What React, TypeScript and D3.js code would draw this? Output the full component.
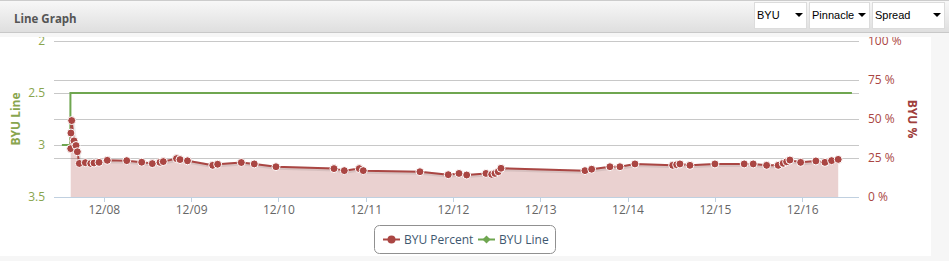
import React from "react";
import * as d3 from "d3";

const YEAR = "2016";
const xTickLabels = ["12/08", "12/09", "12/10", "12/11", "12/12", "12/13", "12/14", "12/15", "12/16"];
const leftTicks = [2, 2.5, 3, 3.5];
const rightTicks = [0, 25, 50, 75, 100];

// BYU Percent series: time, percent
const pctTimes = [
  "12/07 14:46", "12/07 14:49", "12/07 15:02", "12/07 15:40", "12/07 16:13", "12/07 16:35", "12/07 17:08",
  "12/07 18:47", "12/07 20:16", "12/07 21:10", "12/07 22:33", "12/08 00:49", "12/08 06:10", "12/08 10:17",
  "12/08 13:12", "12/08 15:19", "12/08 16:13", "12/08 19:51", "12/08 20:49", "12/08 22:52", "12/09 05:48",
  "12/09 07:10", "12/09 13:40", "12/09 17:14", "12/09 23:12", "12/10 15:09", "12/10 17:59", "12/10 22:06",
  "12/10 23:12", "12/11 14:47", "12/11 22:34", "12/12 01:31", "12/12 03:38", "12/12 08:56", "12/12 10:30",
  "12/12 11:25", "12/12 12:19", "12/12 13:04", "12/13 12:09", "12/13 14:00", "12/13 19:01", "12/13 21:46",
  "12/14 01:54", "12/14 12:16", "12/14 13:22", "12/14 14:16", "12/14 17:01", "12/14 23:53", "12/15 07:56",
  "12/15 10:25", "12/15 14:06", "12/15 17:17", "12/15 18:40", "12/15 19:36", "12/15 20:30", "12/15 23:27",
  "12/16 03:39", "12/16 06:08", "12/16 07:58", "12/16 09:47",
];
const pctValues = [
  31, 41, 49, 36, 33, 29, 21.5,
  22, 21.5, 21.8, 22.2, 23.5, 23.3, 22.3,
  21.4, 22.2, 22.7, 24.6, 24, 23.2, 20.3,
  21, 22.1, 21.2, 19.4, 18.2, 16.9, 18.2,
  16.9, 16.2, 14.3, 15.1, 14.1, 15.1, 14.5,
  15.1, 16.2, 18.4, 16.9, 17.8, 19.4, 19.4,
  21.2, 20.3, 20.7, 21.2, 20.3, 21.2, 21.2,
  21.2, 20.3, 20.3, 21.6, 22.6, 23.7, 22.2,
  23.1, 22.2, 23.3, 24.1,
];

// BYU Line series
const lineTimes = ["12/07 12:20", "12/07 14:40", "12/07 14:41", "12/16 13:33"];
const lineValues = [3, 3, 2.5, 2.5];

const domainStart = "12/07 10:10";
const domainEnd = "12/16 15:30";

const selectLabels = ["BYU", "Pinnacle", "Spread"];

const parse = d3.timeParse("%Y/%m/%d %H:%M");
const p = (s: string) => parse(`${YEAR}/${s}`) as Date;

const FONT = "'Open Sans', 'DejaVu Sans', sans-serif";
const RED = "#aa4643";
const GREEN_TXT = "#89a54e";
const GREEN_LINE = "#6fa650";

export default function App() {
  const plotL = 54, plotR = 859, plotT = 41, plotB = 197;
  const x = d3.scaleTime().domain([p(domainStart), p(domainEnd)]).range([plotL, plotR]);
  const yL = d3.scaleLinear().domain([2, 3.5]).range([plotT, plotB]);
  const yR = d3.scaleLinear().domain([0, 100]).range([plotB, plotT]);

  const pct = pctTimes.map((t, i) => ({ t: p(t), v: pctValues[i] }));
  const ln = lineTimes.map((t, i) => ({ t: p(t), v: lineValues[i] }));

  const area = d3.area<any>().x((d) => x(d.t)).y0(plotB).y1((d) => yR(d.v))(pct) || "";
  const redLine = d3.line<any>().x((d) => x(d.t)).y((d) => yR(d.v))(pct) || "";
  const greenLine = d3.line<any>().x((d) => x(d.t)).y((d) => yL(d.v))(ln) || "";

  const dayTicks = x.ticks(d3.timeDay.every(1) as any);
  const fmt = d3.timeFormat("%m/%d");

  const selGeom = [
    { x0: 754, w: 52 },
    { x0: 809, w: 60 },
    { x0: 872, w: 72 },
  ];

  return (
    <svg width={949} height={261} style={{ position: "absolute", left: 0, top: 0, display: "block" }} fontFamily={FONT}>
      <defs>
        <linearGradient id="hdr" x1="0" y1="0" x2="0" y2="1">
          <stop offset="0" stopColor="#f8f8f8" />
          <stop offset="1" stopColor="#dedede" />
        </linearGradient>
      </defs>
      <rect x={0} y={0} width={949} height={261} fill="#f6f6f6" />
      <rect x={0} y={37} width={931} height={219} fill="#ffffff" />

      {/* gridlines */}
      {leftTicks.map((t) => (
        <line key={"gl" + t} x1={plotL} x2={plotR} y1={yL(t)} y2={yL(t)} stroke="#c8c8c8" strokeWidth={1} shapeRendering="crispEdges" />
      ))}
      {rightTicks.map((t) => (
        <line key={"gr" + t} x1={plotL} x2={plotR} y1={yR(t)} y2={yR(t)} stroke="#c8c8c8" strokeWidth={1} shapeRendering="crispEdges" />
      ))}
      <line x1={plotL} x2={plotR} y1={plotB} y2={plotB} stroke="#c0d0e0" strokeWidth={1} shapeRendering="crispEdges" />

      {/* x ticks */}
      {dayTicks.map((d, i) => (
        <g key={"xt" + i}>
          <line x1={x(d)} x2={x(d)} y1={plotB} y2={plotB + 5} stroke="#c0d0e0" shapeRendering="crispEdges" />
          <text x={x(d)} y={plotB + 17} textAnchor="middle" fontSize={12} fill="#666666">
            {xTickLabels[i] ?? fmt(d)}
          </text>
        </g>
      ))}

      {/* series */}
      <path d={area} fill={RED} fillOpacity={0.25} />
      <path d={greenLine} fill="none" stroke={GREEN_LINE} strokeWidth={2} />
      <path d={redLine} fill="none" stroke="rgba(0,0,0,0.08)" strokeWidth={4} transform="translate(1,1)" />
      <path d={redLine} fill="none" stroke={RED} strokeWidth={2} strokeLinejoin="round" />
      {pct.map((d, i) => (
        <circle key={"m" + i} cx={x(d.t)} cy={yR(d.v)} r={4} fill={RED} stroke="#ffffff" strokeWidth={1} />
      ))}

      {/* left axis */}
      {leftTicks.map((t) => (
        <text key={"lt" + t} x={45} y={yL(t) + 4} textAnchor="end" fontSize={12} fill={GREEN_TXT}>
          {String(t)}
        </text>
      ))}
      <text transform={`translate(20,${(plotT + plotB) / 2}) rotate(-90)`} textAnchor="middle" fontSize={12} fontWeight="bold" fill={GREEN_TXT}>
        BYU Line
      </text>

      {/* right axis */}
      {rightTicks.map((t) => (
        <text key={"rt" + t} x={868} y={yR(t) + 4} textAnchor="start" fontSize={12} fill={RED}>
          {`${t} %`}
        </text>
      ))}
      <text transform={`translate(908,${(plotT + plotB) / 2}) rotate(90)`} textAnchor="middle" fontSize={12} fontWeight="bold" fill="#a0403c">
        BYU %
      </text>

      {/* legend */}
      <rect x={374.5} y={225.5} width={181} height={28} rx={5} ry={5} fill="#ffffff" stroke="#909090" strokeWidth={1} />
      <line x1={383} x2={400} y1={239.5} y2={239.5} stroke={RED} strokeWidth={2} />
      <circle cx={391.5} cy={239.5} r={4} fill={RED} />
      <text x={404} y={244} fontSize={12} fill="#3e576f">BYU Percent</text>
      <line x1={478} x2={495} y1={239.5} y2={239.5} stroke={GREEN_LINE} strokeWidth={2} />
      <path d="M486.5,235.5 L490.5,239.5 L486.5,243.5 L482.5,239.5 Z" fill={GREEN_LINE} />
      <text x={499} y={244} fontSize={12} fill="#3e576f">BYU Line</text>

      {/* header */}
      <rect x={0} y={0} width={949} height={33} fill="url(#hdr)" />
      <line x1={0} x2={949} y1={0.5} y2={0.5} stroke="#cccccc" />
      <line x1={0} x2={949} y1={32.5} y2={32.5} stroke="#c8c8c8" />
      <rect x={0} y={33} width={949} height={4} fill="#f6f6f6" />
      <text x={14} y={23} fontSize={11.5} fontWeight="bold" fill="#555555">Line Graph</text>
      {selectLabels.map((label, i) => {
        const s = selGeom[i];
        return (
          <g key={label}>
            <rect x={s.x0 + 0.5} y={2.5} width={s.w} height={26} fill="#ffffff" stroke="#dcdcdc" />
            <text x={s.x0 + 3} y={19} fontSize={11} fill="#000000" fontFamily="'Liberation Sans', Arial, sans-serif">
              {label}
            </text>
            <path d={`M${s.x0 + s.w - 11},13 L${s.x0 + s.w - 3},13 L${s.x0 + s.w - 7},17 Z`} fill="#000000" />
          </g>
        );
      })}
    </svg>
  );
}
